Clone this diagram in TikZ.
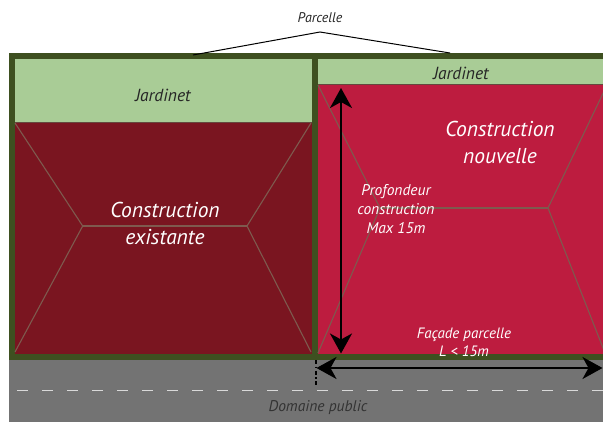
\documentclass[tikz,border=0pt]{standalone}
\usepackage{fontspec}
\setmainfont{PT Sans}
\usetikzlibrary{arrows.meta}
\definecolor{frame}{HTML}{3E5020}
\definecolor{garden}{HTML}{A9CC96}
\definecolor{oldred}{HTML}{7A1520}
\definecolor{newred}{HTML}{BD1C3F}
\definecolor{road}{HTML}{737373}
\definecolor{roof}{HTML}{7E5A4E}
\definecolor{roadline}{HTML}{D9D9D9}
\tikzset{
  lbl/.style={font=\itshape, align=center, inner sep=0pt},
  whitelbl/.style={lbl, text=white},
  roofline/.style={draw=roof, line width=1.1pt},
  dimarrow/.style={line width=2.2pt, {Stealth[length=20pt,width=22pt,inset=6pt]}-{Stealth[length=20pt,width=22pt,inset=6pt]}},
}
\begin{document}
\begin{tikzpicture}[x=1pt,y=-1pt]
\useasboundingbox (0,0) rectangle (603,421);
\clip (0,0) rectangle (603,421);
% road
\fill[road] (9,360) rectangle (610,425);
\draw[roadline, line width=1.5pt, dash pattern=on 11pt off 14pt] (17,390.5) -- (610,390.5);
% frame
\fill[frame] (9,53) rectangle (615,360);
% gardens
\fill[garden] (15,58.5) rectangle (312,122);
\fill[garden] (318,58.5) rectangle (615,84);
% buildings
\fill[oldred] (15,122) rectangle (312,354);
\fill[newred] (318,84) rectangle (615,354);
\draw[draw=roof!80!black, line width=0.8pt] (15,122) -- (312,122);
\draw[draw=roof!80!black, line width=0.8pt] (318,84) -- (615,84);
% roof lines left
\coordinate (la) at (82.7,226);
\coordinate (lb) at (247,226);
\draw[roofline] (15,123) -- (la) -- (15,352);
\draw[roofline] (la) -- (lb);
\draw[roofline] (311,123) -- (lb) -- (311,352);
% roof lines right
\coordinate (ra) at (380,208);
\coordinate (rb) at (548,208);
\draw[roofline] (318,85) -- (ra) -- (318,353);
\draw[roofline] (ra) -- (rb);
\draw[roofline] (607,85) -- (rb) -- (605,353);
% texts
\node[lbl, font=\itshape\fontsize{14}{16}\selectfont, text=black!85] (parcelle) at (320,18) {Parcelle};
\coordinate (pl) at (193,55);
\coordinate (pt) at (320,32);
\coordinate (pr) at (450,53);
\draw[line width=1pt] (pl) -- (pt) -- (pr);
\node[lbl, font=\itshape\fontsize{17.5}{20}\selectfont, text=black!85] (jard1) at (163,95) {Jardinet};
\node[lbl, font=\itshape\fontsize{17.5}{20}\selectfont, text=black!85] (jard2) at (461,73.5) {Jardinet};
\node[whitelbl, font=\itshape\fontsize{21.5}{27}\selectfont] (exist) at (165,223) {Construction\\existante};
\node[whitelbl, font=\itshape\fontsize{21.5}{27}\selectfont] (nouv) at (500,142) {Construction\\nouvelle};
\node[whitelbl, font=\itshape\fontsize{15.5}{19}\selectfont] (prof) at (396,209) {Profondeur\\construction\\Max 15m};
\node[whitelbl, font=\itshape\fontsize{15}{18}\selectfont] (fac) at (464,342) {Façade parcelle\\L < 15m};
\node[lbl, font=\itshape\fontsize{15.5}{18}\selectfont, text=black!80] (dom) at (318,408) {Domaine public};
% dimension arrows
\coordinate (vt) at (341,88);
\coordinate (vb) at (341,353.5);
\draw[dimarrow] (vt) -- (vb);
\coordinate (hl) at (316.5,368);
\coordinate (hr) at (602.5,368);
\draw[dimarrow] (hl) -- (hr);
\coordinate (dt) at (316,360);
\coordinate (db) at (316,387);
\draw[line width=1.6pt, dash pattern=on 4pt off 2.5pt on 1.5pt off 2.5pt] (dt) -- (db);
\end{tikzpicture}
\end{document}
